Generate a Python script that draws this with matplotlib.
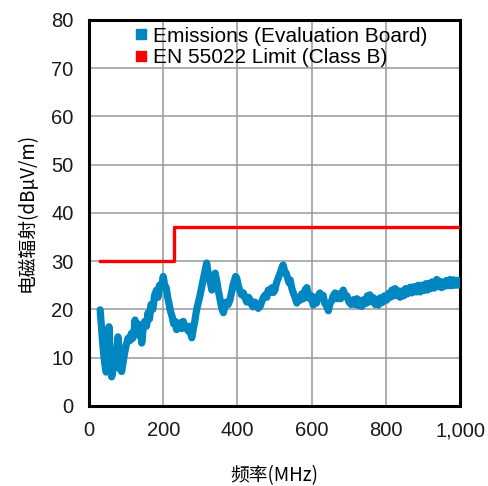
import matplotlib
matplotlib.use("Agg")
import matplotlib.pyplot as plt
from matplotlib.lines import Line2D

plt.rcParams['font.family'] = ['Liberation Sans', 'Noto Sans CJK SC', 'DejaVu Sans']

# emissions (MHz, dBuV/m)
freq = [30, 34, 38, 42, 46, 50, 54, 57, 61, 65, 70, 74, 78, 82, 85, 88, 92, 96, 100, 105,
        110, 114, 118, 122, 124, 128, 132, 136, 140, 142, 146, 150, 155, 159, 163, 167, 172, 177, 182, 186,
        190, 195, 200, 204, 208, 212, 216, 220, 224, 228, 232, 236, 240, 245, 250, 254, 258, 263, 267, 270,
        274, 277, 281, 285, 289, 294, 298, 302, 306, 310, 314, 317, 320, 323, 327, 331, 334, 337, 340, 344,
        348, 352, 357, 362, 366, 370, 375, 380, 384, 388, 392, 395, 398, 402, 406, 411, 416, 420, 425, 430,
        434, 438, 442, 447, 452, 456, 461, 465, 470, 475, 479, 483, 488, 493, 497, 501, 505, 510, 515, 519,
        523, 527, 531, 535, 539, 542, 546, 550, 555, 560, 564, 569, 573, 578, 582, 587, 591, 595, 600, 604,
        608, 613, 617, 622, 626, 631, 635, 640, 645, 649, 654, 658, 663, 668, 673, 678, 685, 690, 695, 700,
        706, 712, 717, 722, 726, 730, 735, 740, 745, 750, 754, 757, 762, 767, 771, 775, 780, 785, 790, 796,
        802, 807, 812, 816, 820, 825, 830, 834, 838, 843, 848, 853, 858, 865, 870, 876, 882, 887, 892, 897,
        902, 907, 912, 916, 920, 925, 930, 937, 941, 946, 950, 954, 959, 963, 968, 973, 978, 983, 988, 993,
        997, 1000]
emis = [19.9, 16, 12, 9, 7, 8, 16.4, 11, 6, 7.5, 8, 10, 14.3, 11, 7.5, 7.1, 9, 11, 12.5, 14,
        13.5, 15, 14, 16, 17.8, 15.5, 17, 14.5, 16, 13, 16, 17.5, 16.5, 19.3, 18, 21, 20, 23, 24, 22.5,
        25, 24.5, 26.8, 25, 24.5, 22.5, 21, 19.5, 18.5, 17, 17.5, 15.8, 17, 17.2, 16, 17.5, 16.5, 16.4, 15.5, 16.5,
        15, 14.1, 16, 17.5, 19.5, 21.3, 22.5, 24, 25.5, 27, 28.5, 29.6, 28, 27, 25.5, 24, 25.5, 27, 27.5, 26,
        24, 22.5, 20.5, 19.3, 20.5, 21.5, 21, 22, 23.5, 25, 26, 26.8, 26.5, 25, 24, 23, 23.4, 22.5, 21.5, 22.5,
        22, 21, 20.5, 21.5, 20.8, 20.2, 20.6, 21.5, 22.5, 23, 22.5, 24, 23.5, 24.5, 23.5, 24, 25.5, 26.5, 27.5, 28.5,
        29.2, 28, 27.5, 26.5, 25.5, 26.1, 24.5, 23.5, 22.5, 21.3, 22.4, 21.9, 23.2, 22.2, 24, 24.5, 22.8, 22.2, 22.8, 20.9,
        22.2, 21.3, 22.7, 23.4, 22.3, 22.9, 21.3, 20.7, 19.7, 21.2, 21.8, 22.8, 23.4, 22.2, 23.2, 22.2, 24, 22.8, 22.8, 21.6,
        21.0, 22.0, 21.0, 22.2, 20.8, 21.8, 20.6, 22.0, 21.2, 22.8, 21.5, 23.0, 21.6, 22.4, 21.0, 22.0, 20.9, 22.4, 21.4, 22.8,
        21.9, 23.3, 22.5, 24.0, 22.8, 24.3, 22.9, 23.8, 22.5, 23.8, 22.8, 24.3, 23.2, 24.6, 23.4, 24.7, 23.6, 25.0, 23.6, 25.0,
        23.9, 25.3, 24.0, 25.4, 24.3, 25.7, 24.4, 26.2, 24.7, 25.8, 24.5, 25.6, 24.8, 26.0, 24.9, 26.2, 24.9, 26.1, 25.0, 26.0,
        25.0, 25.8]

# EN 55022 class B limit
limit_freq = [30, 230, 230, 1000]
limit_val = [30, 30, 37, 37]

blue = '#0086C1'
red = '#FF0000'
cjk = ['Noto Sans CJK SC', 'DejaVu Sans']

fig = plt.figure(figsize=(4.89, 4.86), dpi=100)
ax = fig.add_axes([0.182, 0.165, 0.759, 0.794])

ax.plot(freq, emis, color=blue, lw=5.2, solid_joinstyle='round', solid_capstyle='round', zorder=3)
ax.plot(limit_freq, limit_val, color=red, lw=2.4, zorder=4)

ax.set_xlim(0, 1000)
ax.set_ylim(0, 80)
ax.set_xticks(range(0, 1001, 200))
ax.set_xticklabels(['0', '200', '400', '600', '800', '1,000'])
ax.set_yticks(range(0, 81, 10))
ax.grid(True, color='#999999', lw=1.1)
ax.set_axisbelow(True)
for s in ax.spines.values():
    s.set_linewidth(2.2)
ax.tick_params(length=0, labelsize=14.5, colors='#1a1a1a')
ax.tick_params(axis='y', pad=11)
ax.tick_params(axis='x', pad=11)

ax.set_xlabel('频率(MHz)', fontsize=13.5, family=cjk, labelpad=18)
ax.set_ylabel('电磁辐射(dBμV/m)', fontsize=13.5, family=cjk, labelpad=10)

handles = [Line2D([], [], ls='none', marker='s', ms=7.5, color=blue),
           Line2D([], [], ls='none', marker='s', ms=7.5, color=red)]
ax.legend(handles, ['Emissions (Evaluation Board)', 'EN 55022 Limit (Class B)'],
          loc='upper left', bbox_to_anchor=(0.08, 1.02), frameon=False, fontsize=15,
          handlelength=0.7, handletextpad=0.25, borderpad=0.2, labelspacing=0.12)

fig.savefig('out.png', dpi=100)
